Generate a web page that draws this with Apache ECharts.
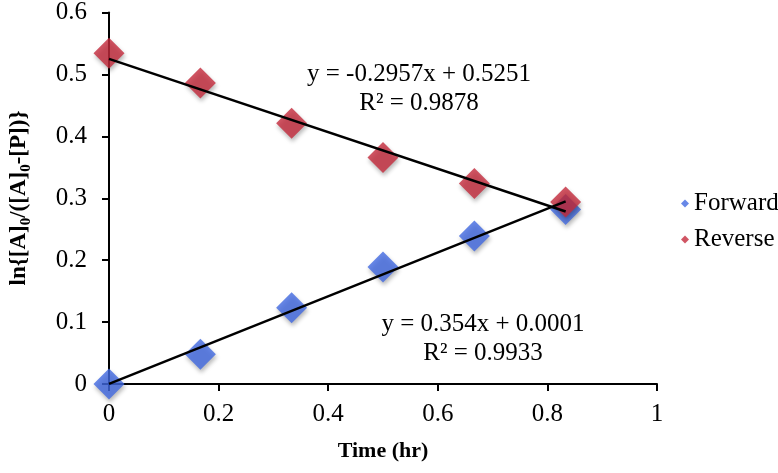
<!DOCTYPE html>
<html><head><meta charset="utf-8">
<script src="https://cdn.jsdelivr.net/npm/echarts@6/dist/echarts.min.js"></script>
<style>html,body{margin:0;padding:0;background:#fff}#c{width:778px;height:473px}</style>
</head><body><div id="c"></div>
<script>
var timeHr = [0, 0.1667, 0.3333, 0.5, 0.6667, 0.8333];
var forward = [0, 0.048, 0.123, 0.189, 0.239, 0.282];
var reverse = [0.534, 0.486, 0.421, 0.366, 0.324, 0.294];
var fwdFit = {slope: 0.354, intercept: 0.0001, r2: '0.9933'};
var revFit = {slope: -0.2957, intercept: 0.5251, r2: '0.9878'};
var xTicks = [0, 0.2, 0.4, 0.6, 0.8, 1];
var yTicks = [0, 0.1, 0.2, 0.3, 0.4, 0.5, 0.6];

var F = 'Liberation Serif, Times New Roman, serif';
function pairs(xs, ys){ return xs.map(function(x,i){return [x, ys[i]];}); }
function fitLine(fit){
  var x0 = timeHr[0], x1 = timeHr[timeHr.length-1];
  return [[x0, fit.slope*x0+fit.intercept],[x1, fit.slope*x1+fit.intercept]];
}
function eqText(fit){
  var s = fit.slope < 0 ? '-' + Math.abs(fit.slope) : String(fit.slope);
  return 'y = ' + s + 'x + ' + fit.intercept + '\nR\u00B2 = ' + fit.r2;
}
var shadow = {shadowBlur: 4, shadowColor: 'rgba(0,0,0,0.35)', shadowOffsetX: 1, shadowOffsetY: 3};
var chart = echarts.init(document.getElementById('c'));
chart.setOption({
  animation: false,
  grid: {left: 109, right: 121, top: 12, bottom: 89},
  xAxis: {
    type: 'value', min: xTicks[0], max: xTicks[xTicks.length-1], interval: 0.2,
    name: 'Time (hr)', nameLocation: 'middle', nameGap: 56,
    nameTextStyle: {fontFamily: F, fontWeight: 'bold', fontSize: 22, color: '#000'},
    axisLine: {lineStyle: {color: '#000', width: 2}},
    axisTick: {length: 7, lineStyle: {color: '#000', width: 2}},
    axisLabel: {fontFamily: F, fontSize: 25, color: '#000', margin: 18,
      formatter: function(v){ return String(+v.toFixed(1)); }},
    splitLine: {show: false}
  },
  yAxis: {
    type: 'value', min: yTicks[0], max: yTicks[yTicks.length-1], interval: 0.1,
    axisLine: {show: true, lineStyle: {color: '#000', width: 2}},
    axisTick: {show: true, length: 7, lineStyle: {color: '#000', width: 2}},
    axisLabel: {fontFamily: F, fontSize: 25, color: '#000', margin: 22,
      formatter: function(v){ return String(+v.toFixed(1)); }},
    splitLine: {show: false}
  },
  legend: {
    orient: 'vertical', left: 676, top: 186, itemGap: 11,
    itemWidth: 8, itemHeight: 8,
    textStyle: {fontFamily: F, fontSize: 25, color: '#000'},
    data: [{name: 'Forward', icon: 'diamond'}, {name: 'Reverse', icon: 'diamond'}]
  },
  series: [
    {name: 'Forward', type: 'scatter', symbol: 'diamond', symbolSize: 31,
     itemStyle: Object.assign({color: '#4169E1'}, shadow), data: pairs(timeHr, forward), z: 2},
    {name: 'Reverse', type: 'scatter', symbol: 'diamond', symbolSize: 31,
     itemStyle: Object.assign({color: '#C42A3C'}, shadow), data: pairs(timeHr, reverse), z: 3},
    {name: 'fwdTrend', type: 'line', symbol: 'none', data: fitLine(fwdFit),
     lineStyle: {color: '#000', width: 2.5}, z: 5},
    {name: 'revTrend', type: 'line', symbol: 'none', data: fitLine(revFit),
     lineStyle: {color: '#000', width: 2.5}, z: 5}
  ],
  graphic: [
    {type: 'text', x: 19, y: 198, rotation: Math.PI/2,
     style: {
       text: '{b|ln{[A]}{s|0}{b|/([A]}{s|0}{b|-[P])}{c|}}',
       font: 'bold 23px ' + F,
       fill: '#000',
       align: 'center', verticalAlign: 'middle',
       rich: {
         b: {fontFamily: F, fontWeight: 'bold', fontSize: 23, lineHeight: 30, verticalAlign: 'middle', fill: '#000'},
         c: {fontFamily: F, fontWeight: 'bold', fontSize: 23, lineHeight: 30, verticalAlign: 'middle', fill: '#000'},
         s: {fontFamily: F, fontWeight: 'bold', fontSize: 15, lineHeight: 15, verticalAlign: 'bottom', fill: '#000'}
       }
     }},
    {type: 'text', x: 419, y: 60, style: {text: eqText(revFit), font: '25px ' + F, fill: '#000', align: 'center', lineHeight: 29}},
    {type: 'text', x: 483, y: 310, style: {text: eqText(fwdFit), font: '25px ' + F, fill: '#000', align: 'center', lineHeight: 29}}
  ]
});
</script></body></html>
